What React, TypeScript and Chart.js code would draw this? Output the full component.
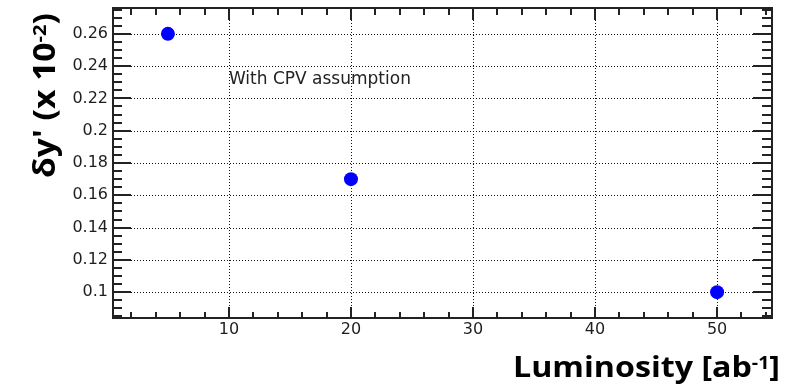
import { useEffect, useRef } from 'react';
import { Chart, registerables } from 'chart.js';

Chart.register(...registerables);

// Measured resolution on y' versus integrated luminosity
const luminosity = [5, 20, 50];
const deltaYPrime = [0.26, 0.17, 0.1];

// Axis ranges and ticks
const xRange = [0.5, 54.5];
const yRange = [0.084, 0.276];
const xTicks = [10, 20, 30, 40, 50];
const yTicks = [0.1, 0.12, 0.14, 0.16, 0.18, 0.2, 0.22, 0.24, 0.26];
const xMinorStep = 2;
const yMinorStep = 0.005;

// Text annotation placed in data coordinates (left edge, baseline)
const annotationText = 'With CPV assumption';
const annotationPos = [10, 0.229];

const TITLE_FONT = '"Open Sans", "Noto Sans", sans-serif';
const TICK_FONT = '"DejaVu Sans", sans-serif';

type Part = { text: string; size: number; rise: number };

// Draws a run of text pieces (with superscripts) along the current x direction,
// stretched to the requested total length.
function drawRich(
  ctx: CanvasRenderingContext2D,
  parts: Part[],
  length: number,
  align: 'left' | 'right'
) {
  const widths = parts.map((p) => {
    ctx.font = `700 ${p.size}px ${TITLE_FONT}`;
    return ctx.measureText(p.text).width;
  });
  const total = widths.reduce((s, w) => s + w, 0);
  const sx = length / total;
  ctx.save();
  ctx.scale(sx, 1);
  let cx = align === 'right' ? -total : 0;
  ctx.textBaseline = 'alphabetic';
  ctx.textAlign = 'left';
  ctx.fillStyle = '#000';
  parts.forEach((p, i) => {
    ctx.font = `700 ${p.size}px ${TITLE_FONT}`;
    ctx.fillText(p.text, cx, -p.rise);
    cx += widths[i];
  });
  ctx.restore();
}

function minorValues(range: number[], step: number) {
  const out: number[] = [];
  const k0 = Math.ceil(range[0] / step - 1e-9);
  const k1 = Math.floor(range[1] / step + 1e-9);
  for (let k = k0; k <= k1; k++) out.push(+(k * step).toFixed(6));
  return out;
}

const isMajor = (v: number, majors: number[]) =>
  majors.some((m) => Math.abs(m - v) < 1e-9);

const framePlugin = {
  id: 'frameAndTicks',
  beforeDatasetsDraw(chart: any) {
    const { ctx, chartArea: a, scales } = chart;
    const xs = scales.x;
    const ys = scales.y;
    const line = (x1: number, y1: number, x2: number, y2: number) => {
      ctx.beginPath();
      ctx.moveTo(x1, y1);
      ctx.lineTo(x2, y2);
      ctx.stroke();
    };
    ctx.save();

    // dotted grid at the major ticks
    ctx.strokeStyle = '#111';
    ctx.lineWidth = 1;
    ctx.setLineDash([1, 2]);
    xTicks.forEach((v) => {
      const px = Math.round(xs.getPixelForValue(v)) + 0.5;
      line(px, a.top, px, a.bottom);
    });
    yTicks.forEach((v) => {
      const py = Math.round(ys.getPixelForValue(v)) + 0.5;
      line(a.left, py, a.right, py);
    });
    ctx.setLineDash([]);

    // tick marks on all four sides
    ctx.strokeStyle = '#222';
    ctx.lineWidth = 2;
    minorValues(xRange, xMinorStep).forEach((v) => {
      const px = Math.round(xs.getPixelForValue(v));
      const major = isMajor(v, xTicks);
      line(px, a.bottom, px, a.bottom - (major ? 11 : 6));
      line(px, a.top, px, a.top + (major ? 12 : 7));
    });
    minorValues(yRange, yMinorStep).forEach((v) => {
      const py = Math.round(ys.getPixelForValue(v));
      const major = isMajor(v, yTicks);
      line(a.left, py, a.left + (major ? 18 : 9), py);
      line(a.right, py, a.right - (major ? 19 : 10), py);
    });

    // frame
    ctx.strokeRect(a.left, a.top, a.right - a.left, a.bottom - a.top);
    ctx.restore();
  },
  afterDraw(chart: any) {
    const { ctx, scales } = chart;
    ctx.save();

    // annotation
    ctx.font = `17px ${TICK_FONT}`;
    ctx.fillStyle = '#222';
    ctx.textBaseline = 'alphabetic';
    ctx.textAlign = 'left';
    ctx.fillText(
      annotationText,
      scales.x.getPixelForValue(annotationPos[0]),
      scales.y.getPixelForValue(annotationPos[1])
    );

    // x axis title
    ctx.save();
    ctx.translate(780, 377);
    drawRich(
      ctx,
      [
        { text: 'Luminosity [ab', size: 28, rise: 0 },
        { text: '-1', size: 17, rise: 8 },
        { text: ']', size: 28, rise: 0 },
      ],
      267,
      'right'
    );
    ctx.restore();

    // y axis title, reading bottom to top
    ctx.save();
    ctx.translate(55, 178);
    ctx.rotate(-Math.PI / 2);
    drawRich(
      ctx,
      [
        { text: "δy' (x 10", size: 30, rise: 0 },
        { text: '-2', size: 18, rise: 9 },
        { text: ')', size: 30, rise: 0 },
      ],
      165,
      'left'
    );
    ctx.restore();

    ctx.restore();
  },
};

export default function App() {
  const canvasRef = useRef<HTMLCanvasElement>(null);

  useEffect(() => {
    const canvas = canvasRef.current;
    if (!canvas) return;
    const chart = new Chart(canvas, {
      type: 'scatter',
      data: {
        datasets: [
          {
            data: luminosity.map((x, i) => ({ x, y: deltaYPrime[i] })),
            showLine: false,
            pointRadius: 7,
            pointHoverRadius: 7,
            pointBackgroundColor: '#0000ff',
            pointBorderWidth: 0,
            pointBorderColor: '#0000ff',
          },
        ],
      },
      options: {
        animation: false,
        responsive: false,
        devicePixelRatio: 1,
        events: [],
        layout: { padding: { top: 8, right: 29, left: 0, bottom: 0 } },
        plugins: {
          legend: { display: false },
          tooltip: { enabled: false },
        },
        scales: {
          x: {
            type: 'linear',
            min: xRange[0],
            max: xRange[1],
            afterBuildTicks: (s: any) => {
              s.ticks = xTicks.map((v) => ({ value: v }));
            },
            afterFit: (s: any) => {
              s.height = 72;
              s.paddingLeft = 0;
              s.paddingRight = 0;
              s.paddingTop = 0;
              s.paddingBottom = 0;
            },
            grid: { display: false, drawTicks: false },
            border: { display: false },
            ticks: {
              autoSkip: false,
              maxRotation: 0,
              padding: 4,
              color: '#1e1e1e',
              font: { family: TICK_FONT, size: 16, lineHeight: 1 },
              callback: (v: any) => String(v),
            },
          },
          y: {
            type: 'linear',
            min: yRange[0],
            max: yRange[1],
            afterBuildTicks: (s: any) => {
              s.ticks = yTicks.map((v) => ({ value: v }));
            },
            afterFit: (s: any) => {
              s.width = 113;
              s.paddingLeft = 0;
              s.paddingRight = 0;
              s.paddingTop = 0;
              s.paddingBottom = 0;
            },
            grid: { display: false, drawTicks: false },
            border: { display: false },
            ticks: {
              autoSkip: false,
              padding: 5,
              color: '#1e1e1e',
              font: { family: TICK_FONT, size: 16, lineHeight: 1 },
              callback: (v: any) => String(+Number(v).toFixed(3)),
            },
          },
        },
      },
      plugins: [framePlugin],
    });
    return () => chart.destroy();
  }, []);

  return (
    <div
      style={{
        position: 'fixed',
        left: 0,
        top: 0,
        width: 801,
        height: 390,
        background: '#fff',
      }}
    >
      <canvas ref={canvasRef} width={801} height={390} style={{ display: 'block' }} />
    </div>
  );
}
